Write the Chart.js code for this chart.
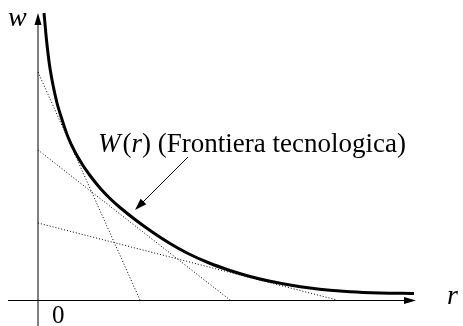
<!DOCTYPE html>
<html>
<head>
<meta charset="utf-8">
<script src="https://cdn.jsdelivr.net/npm/chart.js@4.4.1/dist/chart.umd.min.js"></script>
<style>
    html, body { margin: 0; padding: 0; background: #fff; }
    canvas { display: block; }
</style>
</head>
<body>
<canvas id="myChart" width="463" height="326"></canvas>
<script>
// frontiera tecnologica W(r)
const curveR = [6, 8.5, 11.5, 15, 19, 24, 30, 37, 45, 52, 62, 72, 82, 97, 115, 132, 149, 170, 192, 212, 232, 252, 272, 292, 312, 342, 376];
const curveW = [287, 260, 235, 215, 197, 180.5, 163, 148, 134.5, 124.5, 112, 101.5, 92.5, 80.5, 67.5, 56.5, 47, 37.5, 29.5, 23.5, 18.7, 15, 12, 9.8, 8.3, 7.1, 6.5];

// rette tangenti (intercette sugli assi)
const tangentR = [[0, 102], [0, 192], [0, 299]];
const tangentW = [[228, 0], [150, 0], [77, 0]];

const axisLabels = ['w', 'r', '0'];
const frontierLabel = ['W', '(', 'r', ')', ' (Frontiera tecnologica)'];

const serif = '"Liberation Serif", "Times New Roman", "DejaVu Serif", serif'

var curvePts = []
for (i = 0; i < curveR.length; i++) {
    curvePts.push({ x: curveR[i], y: curveW[i] })
}

var datasets = [{
    data: curvePts,
    borderColor: '#000',
    borderWidth: 3,
    pointRadius: 0,
    cubicInterpolationMode: 'monotone'
}]
for (i = 0; i < tangentR.length; i++) {
    datasets.push({
        data: [{ x: tangentR[i][0], y: tangentW[i][0] }, { x: tangentR[i][1], y: tangentW[i][1] }],
        borderColor: '#000',
        borderWidth: 1,
        borderDash: [1, 2],
        pointRadius: 0
    })
}

function arrowHead(ctx, x0, y0, x1, y1, len, half) {
    var a = Math.atan2(y1 - y0, x1 - x0)
    ctx.beginPath()
    ctx.moveTo(x1, y1)
    ctx.lineTo(x1 - len * Math.cos(a) + half * Math.sin(a), y1 - len * Math.sin(a) - half * Math.cos(a))
    ctx.lineTo(x1 - len * Math.cos(a) - half * Math.sin(a), y1 - len * Math.sin(a) + half * Math.cos(a))
    ctx.closePath()
    ctx.fill()
}

// assi, freccia e scritte
const drawExtras = {
    id: 'drawExtras',
    beforeDatasetsDraw: (chart) => {
        const ctx = chart.ctx
        const xs = chart.scales.x
        const ys = chart.scales.y
        const x0 = xs.getPixelForValue(0)
        const y0 = ys.getPixelForValue(0)
        ctx.save()
        ctx.strokeStyle = '#000'
        ctx.fillStyle = '#000'
        ctx.lineWidth = 1
        // asse w
        ctx.beginPath()
        ctx.moveTo(x0, ys.getPixelForValue(-26))
        ctx.lineTo(x0, ys.getPixelForValue(276))
        ctx.stroke()
        arrowHead(ctx, x0, y0, x0, ys.getPixelForValue(287), 12, 3.5)
        // asse r
        ctx.beginPath()
        ctx.moveTo(xs.getPixelForValue(-30), y0 + 0.5)
        ctx.lineTo(xs.getPixelForValue(368), y0 + 0.5)
        ctx.stroke()
        arrowHead(ctx, x0, y0 + 0.5, xs.getPixelForValue(378), y0 + 0.5, 12, 3.5)
        ctx.restore()
    },
    afterDraw: (chart) => {
        const ctx = chart.ctx
        const xs = chart.scales.x
        const ys = chart.scales.y
        ctx.save()
        ctx.fillStyle = '#000'
        ctx.strokeStyle = '#000'
        ctx.textBaseline = 'alphabetic'
        ctx.textAlign = 'left'

        ctx.font = 'italic 28px ' + serif
        ctx.fillText(axisLabels[0], xs.getPixelForValue(-30), ys.getPixelForValue(274))
        ctx.fillText(axisLabels[1], xs.getPixelForValue(409), ys.getPixelForValue(-4))
        ctx.font = '25px ' + serif
        ctx.fillText(axisLabels[2], xs.getPixelForValue(14), ys.getPixelForValue(-23))

        // W(r) (Frontiera tecnologica)
        var tx = xs.getPixelForValue(60)
        var ty = ys.getPixelForValue(148)
        for (i = 0; i < frontierLabel.length; i++) {
            var italic = frontierLabel[i] == 'W' || frontierLabel[i] == 'r'
            ctx.font = (italic ? 'italic ' : '') + '27px ' + serif
            ctx.fillText(frontierLabel[i], tx, ty)
            tx += ctx.measureText(frontierLabel[i]).width
            if (frontierLabel[i] == 'W') tx += 2
        }

        // freccia verso la curva
        var ax = xs.getPixelForValue(150), ay = ys.getPixelForValue(143)
        var bx = xs.getPixelForValue(97), by = ys.getPixelForValue(90)
        ctx.lineWidth = 1
        ctx.beginPath()
        ctx.moveTo(ax, ay)
        ctx.lineTo(bx + 6, by - 6)
        ctx.stroke()
        arrowHead(ctx, ax, ay, bx, by, 12, 4)
        ctx.restore()
    }
}

const config = {
    type: 'line',
    data: { datasets: datasets },
    options: {
        responsive: false,
        devicePixelRatio: 1,
        animation: false,
        layout: { padding: 0 },
        plugins: {
            legend: { display: false },
            tooltip: { enabled: false }
        },
        scales: {
            x: { type: 'linear', min: -38, max: 425, display: false },
            y: { type: 'linear', min: -26, max: 300, display: false }
        }
    },
    plugins: [drawExtras]
};

var myChart = new Chart(
    document.getElementById('myChart'),
    config
);
</script>
</body>
</html>
